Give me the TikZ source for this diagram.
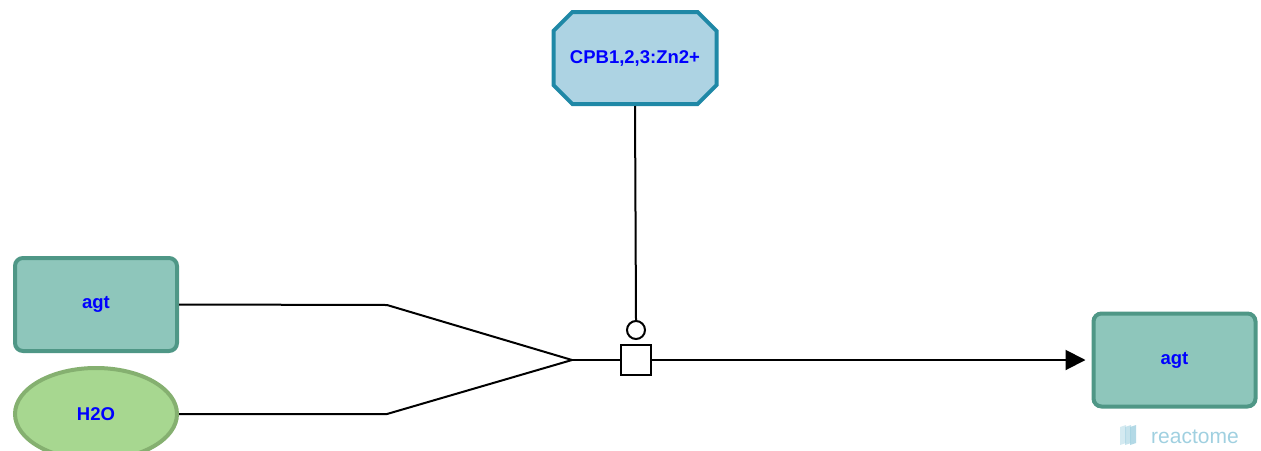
\documentclass[tikz,border=0pt]{standalone}
\usepackage{fontspec}
\setmainfont{Liberation Sans}
\usetikzlibrary{arrows.meta}
\usetikzlibrary{shapes.geometric,shapes.misc}
\definecolor{cplxfill}{RGB}{173,211,227}
\definecolor{cplxline}{RGB}{31,136,166}
\definecolor{protfill}{RGB}{142,198,187}
\definecolor{protline}{RGB}{79,151,134}
\definecolor{chemfill}{RGB}{167,215,144}
\definecolor{chemline}{RGB}{133,176,112}
\definecolor{labelblue}{RGB}{0,0,255}
\definecolor{logoblue}{RGB}{160,208,224}

\begin{document}
\begin{tikzpicture}[x=1pt,y=-1pt,
 entity/.style={line width=4pt, text=labelblue, font=\fontsize{18.5}{20}\selectfont\bfseries},
 protein/.style={entity, draw=protline, fill=protfill, rounded corners=8pt, minimum width=162pt, minimum height=93pt},
 complexbox/.style={entity, draw=cplxline, fill=cplxfill, chamfered rectangle, chamfered rectangle xsep=11pt, chamfered rectangle ysep=11pt, minimum width=163pt, minimum height=92pt, inner sep=0pt},
 chemical/.style={entity, draw=chemline, fill=chemfill, ellipse, minimum width=162pt, minimum height=92pt},
 link/.style={black, line width=2pt}]
\useasboundingbox (0,0) rectangle (1261,450);
% entities
\node[complexbox] (cpb) at (635,58) {CPB1,2,3:Zn2+};
\node[protein] (agtin) at (96,304.5) {agt};
\node[chemical] (water) at (96,414) {H2O};
\node[protein] (agtout) at (1174.5,360) {agt};
% reaction
\node[draw, link, fill=white, minimum size=30pt, inner sep=0pt] (rxn) at (636,360) {};
\node[draw, link, fill=white, circle, minimum size=18pt, inner sep=0pt] (cat) at (636,330) {};
\coordinate (bendA) at (387,305);
\coordinate (bendB) at (387,414);
\coordinate (join) at (572,360);
\draw[link] (agtin.east) -- (bendA) -- (join);
\draw[link] (water.east) -- (bendB) -- (join);
\draw[link] (join) -- (rxn.west);
\draw[link, -{Triangle[length=20pt,width=20pt]}, shorten >=6pt] (rxn.east) -- (agtout.west);
\draw[link] (cpb.south) -- (cat.north);
% logo
\foreach \x/\o in {0/.45,5/.6,10/.8} {
 \fill[logoblue, opacity=\o] (1120+\x,427) -- ++(6,-2) -- ++(0,18) -- ++(-6,2) -- cycle;
}
\node[text=logoblue, font=\fontsize{21}{22}\selectfont, inner sep=0pt] (logo) at (1195,437) {reactome};
\end{tikzpicture}
\end{document}
